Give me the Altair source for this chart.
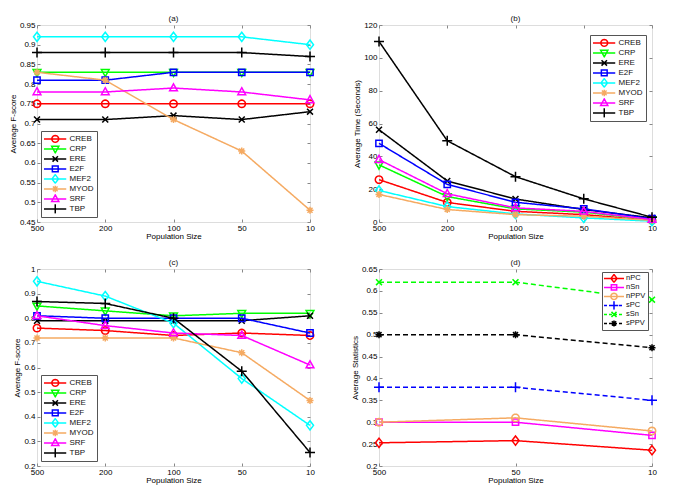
import math
import altair as alt
import pandas as pd

# ---------------- data ----------------
POP5 = ["500", "200", "100", "50", "10"]
POP3 = ["500", "50", "10"]

NAMES_ABC = ["CREB", "CRP", "ERE", "E2F", "MEF2", "MYOD", "SRF", "TBP"]
COLORS_ABC = ["#FF0000", "#00FF00", "#000000", "#0000FF", "#00FFFF", "#F5AA62", "#FF00FF", "#000000"]
MARKERS_ABC = ["circle", "tri_down", "x", "square", "diamond", "star", "tri_up", "plus"]

# (a) Average F-score
a_creb = [0.75, 0.75, 0.75, 0.75, 0.75]
a_crp = [0.83, 0.83, 0.83, 0.83, 0.83]
a_ere = [0.71, 0.71, 0.72, 0.71, 0.73]
a_e2f = [0.81, 0.81, 0.83, 0.83, 0.83]
a_mef2 = [0.92, 0.92, 0.92, 0.92, 0.90]
a_myod = [0.83, 0.81, 0.71, 0.63, 0.48]
a_srf = [0.78, 0.78, 0.79, 0.78, 0.76]
a_tbp = [0.88, 0.88, 0.88, 0.88, 0.87]

# (b) Average Time (Seconds)
b_creb = [25.8, 11.9, 6.5, 4.5, 1.0]
b_crp = [34.8, 15.5, 8.0, 6.0, 1.5]
b_ere = [56.2, 25.0, 14.0, 7.6, 2.5]
b_e2f = [47.9, 22.9, 12.0, 8.0, 2.0]
b_mef2 = [19.2, 9.4, 4.9, 2.5, 0.5]
b_myod = [16.8, 7.6, 4.5, 3.5, 1.0]
b_srf = [38.0, 17.2, 8.6, 6.5, 1.5]
b_tbp = [110.0, 49.5, 27.6, 14.1, 2.9]

# (c) Average F-score
c_creb = [0.76, 0.75, 0.73, 0.74, 0.73]
c_crp = [0.85, 0.83, 0.81, 0.82, 0.82]
c_ere = [0.79, 0.79, 0.79, 0.79, 0.81]
c_e2f = [0.81, 0.80, 0.80, 0.80, 0.74]
c_mef2 = [0.95, 0.89, 0.78, 0.555, 0.365]
c_myod = [0.72, 0.72, 0.72, 0.66, 0.466]
c_srf = [0.81, 0.77, 0.74, 0.73, 0.61]
c_tbp = [0.868, 0.86, 0.80, 0.585, 0.255]

# (d) Average Statistics
NAMES_D = ["nPC", "nSn", "nPPV", "sPC", "sSn", "sPPV"]
COLORS_D = ["#FF0000", "#FF00FF", "#F5AA62", "#0000FF", "#00FF00", "#000000"]
MARKERS_D = ["diamond", "square", "circle", "plus", "x", "star"]
DASHED_D = [False, False, False, True, True, True]
d_npc = [0.253, 0.258, 0.236]
d_nsn = [0.30, 0.30, 0.27]
d_nppv = [0.30, 0.31, 0.28]
d_spc = [0.38, 0.38, 0.35]
d_ssn = [0.62, 0.62, 0.58]
d_sppv = [0.50, 0.50, 0.47]

TICKS_A = [0.45, 0.5, 0.55, 0.6, 0.65, 0.7, 0.75, 0.8, 0.85, 0.9, 0.95]
TICKS_B = [0, 20, 40, 60, 80, 100, 120]
TICKS_C = [0.2, 0.3, 0.4, 0.5, 0.6, 0.7, 0.8, 0.9, 1]
TICKS_D = [0.2, 0.25, 0.3, 0.35, 0.4, 0.45, 0.5, 0.55, 0.6, 0.65]

# ---------------- style ----------------
W, H = 273, 197
FONT = "Liberation Sans"
PT_SIZE = 55
LW = 1.5

def circle_pts(n=20):
    return [(math.cos(2 * math.pi * i / n), math.sin(2 * math.pi * i / n)) for i in range(n)]

GEOM = {
    "circle": [(circle_pts(), True)],
    "square": [([(-0.85, -0.85), (0.85, -0.85), (0.85, 0.85), (-0.85, 0.85)], True)],
    "diamond": [([(0, -1.25), (0.95, 0), (0, 1.25), (-0.95, 0)], True)],
    "tri_up": [([(0, -1.15), (1.05, 0.75), (-1.05, 0.75)], True)],
    "tri_down": [([(0, 1.15), (1.05, -0.75), (-1.05, -0.75)], True)],
    "x": [([(-0.8, -0.8), (0.8, 0.8)], False), ([(-0.8, 0.8), (0.8, -0.8)], False)],
    "plus": [([(-1.35, 0), (1.35, 0)], False), ([(0, -1.35), (0, 1.35)], False)],
    "star": [([(-0.95, 0), (0.95, 0)], False), ([(0, -0.95), (0, 0.95)], False),
             ([(-0.68, -0.68), (0.68, 0.68)], False), ([(-0.68, 0.68), (0.68, -0.68)], False)],
}

def to_path(geom, k=1.0, dx=0.0):
    parts = []
    for pts, closed in geom:
        s = "M" + "L".join(f"{x * k + dx:.3f},{y * k:.3f}" for x, y in pts)
        if closed:
            s += "Z"
        parts.append(s)
    return "".join(parts)

def legend_path(marker, dashed, r, x0, x1, xm, mk):
    u0, u1, um = x0 / r, x1 / r, xm / r
    if dashed:
        segs = []
        d, g = 3.0 / r, 2.0 / r
        s = u0
        while s < u1:
            e = min(s + d, u1)
            segs.append(f"M{s:.3f},0L{e:.3f},0")
            s = e + g
        stub = "".join(segs)
    else:
        stub = f"M{u0:.3f},0L{u1:.3f},0"
    k = mk * (math.sqrt(PT_SIZE) / 2) / r
    return stub + to_path(GEOM[marker], k=k, dx=um)


def panel(names, colors, markers, dashed, series_vals, pops, ydom, yticks,
          title, ytitle, lx, ly, lsize, lfont, lpad, rowh, stub, laboff, mk):
    rows = []
    for n, vals in zip(names, series_vals):
        for p, v in zip(pops, vals):
            rows.append({"pop": p, "val": v, "series": n})
    df = pd.DataFrame(rows)
    base = alt.Chart(df)

    cscale = alt.Scale(domain=names, range=colors)
    xs = alt.Scale(type="point", domain=pops, padding=0)
    ys = alt.Scale(domain=ydom, nice=False, zero=False)

    common = dict(domain=False, grid=False, minExtent=0, titleFontWeight="normal",
                  titleFont=FONT, titleFontSize=8, labelFont=FONT, labelFontSize=8)
    lab_x = alt.Axis(orient="bottom", title="Population Size", ticks=False, tickSize=0,
                     labelPadding=2, titlePadding=0, labelAngle=0, **common)
    lab_y = alt.Axis(orient="left", title=ytitle, values=yticks, format="~r", ticks=False,
                     tickSize=0, labelPadding=2, titlePadding=2, **common)
    t1_x = alt.Axis(orient="top", offset=-H, labels=False, title=None, tickSize=3, **common)
    t1_y = alt.Axis(orient="right", offset=-W, labels=False, title=None, values=yticks,
                    tickSize=3, **common)
    t2_x = alt.Axis(orient="bottom", offset=-H, labels=False, title=None, tickSize=3, **common)
    t2_y = alt.Axis(orient="left", offset=-W, labels=False, title=None, values=yticks,
                    tickSize=3, **common)

    layers = []
    for i, (n, m, col) in enumerate(zip(names, markers, colors)):
        if i == 0:
            lx_ax, ly_ax, px_ax, py_ax = lab_x, lab_y, t1_x, t1_y
        else:
            lx_ax = ly_ax = px_ax = py_ax = None
        line = base.transform_filter(alt.datum.series == n).mark_line(
            strokeWidth=LW, color=col, strokeDash=[5, 3] if dashed[i] else [1, 0]
        ).encode(
            x=alt.X("pop:N", scale=xs, axis=lx_ax),
            y=alt.Y("val:Q", scale=ys, axis=ly_ax),
        )
        pts = base.transform_filter(alt.datum.series == n).mark_point(
            shape=to_path(GEOM[m]), size=PT_SIZE, filled=False, opacity=1, strokeWidth=LW,
            color=col
        ).encode(
            x=alt.X("pop:N", scale=xs, axis=px_ax),
            y=alt.Y("val:Q", scale=ys, axis=py_ax),
        )
        layers += [line, pts]

    r = math.sqrt(lsize) / 2
    lpaths = [legend_path(m, d, r, stub[0], stub[1], stub[2], mk) for m, d in zip(markers, dashed)]
    leg = alt.Legend(orient="none", legendX=lx, legendY=ly, title=None, padding=lpad,
                     rowPadding=0, clipHeight=rowh, symbolSize=lsize, symbolStrokeWidth=LW,
                     labelOffset=laboff, labelFont=FONT, labelFontSize=lfont,
                     labelColor="#111", strokeColor="#555", fillColor="white",
                     cornerRadius=0, symbolOpacity=1, labelLimit=80)
    legend_layer = base.transform_filter("datum.val < -1000").mark_point(
        filled=False, opacity=1, strokeWidth=LW, size=lsize
    ).encode(
        x=alt.X("pop:N", scale=xs, axis=t2_x),
        y=alt.Y("val:Q", scale=ys, axis=t2_y),
        color=alt.Color("series:N", scale=cscale, legend=leg),
        shape=alt.Shape("series:N", scale=alt.Scale(domain=names, range=lpaths), legend=leg),
    )
    layers.append(legend_layer)

    return alt.layer(*layers).resolve_axis(x="independent", y="independent").properties(
        width=W, height=H,
        title=alt.TitleParams(title, fontSize=8, fontWeight="normal", font=FONT, offset=-2,
                              anchor="middle", color="#111"),
    )


pa = panel(NAMES_ABC, COLORS_ABC, MARKERS_ABC, [False] * 8,
           [a_creb, a_crp, a_ere, a_e2f, a_mef2, a_myod, a_srf, a_tbp], POP5,
           [0.45, 0.95], TICKS_A, "(a)", "Average F-score",
           4, 106, 64, 8, 3, 9.8, (-5.75, 17.25, 6.25), 15.5, 0.92)
pb = panel(NAMES_ABC, COLORS_ABC, MARKERS_ABC, [False] * 8,
           [b_creb, b_crp, b_ere, b_e2f, b_mef2, b_myod, b_srf, b_tbp], POP5,
           [0, 120], TICKS_B, "(b)", "Average Time (Seconds)",
           211, 10, 64, 8, 3, 9.8, (-5.75, 17.25, 6.25), 15.5, 0.92)
pc = panel(NAMES_ABC, COLORS_ABC, MARKERS_ABC, [False] * 8,
           [c_creb, c_crp, c_ere, c_e2f, c_mef2, c_myod, c_srf, c_tbp], POP5,
           [0.2, 1.0], TICKS_C, "(c)", "Average F-score",
           4, 106, 64, 8, 3, 9.8, (-5.75, 17.25, 6.25), 15.5, 0.92)
pd_ = panel(NAMES_D, COLORS_D, MARKERS_D, DASHED_D,
            [d_npc, d_nsn, d_nppv, d_spc, d_ssn, d_sppv], POP3,
            [0.2, 0.65], TICKS_D, "(d)", "Average Statistics",
            223, 3, 49, 7.5, 2, 8.8, (-4.5, 15.5, 5.5), 13, 0.85)

chart = alt.concat(pa, pb, pc, pd_, columns=2, spacing={"row": 47, "column": 69}, bounds="flush").resolve_scale(
    color="independent", shape="independent"
).resolve_legend(
    color="independent", shape="independent"
).properties(
    padding={"left": 0, "top": 6, "right": 5, "bottom": 5}
).configure_view(
    stroke="#444", strokeWidth=1
).configure_axis(
    labelColor="#111", titleColor="#111", tickColor="#555", tickWidth=1
).configure(background="white")

chart.save("out.html", embed_options={"renderer": "svg", "actions": False})
